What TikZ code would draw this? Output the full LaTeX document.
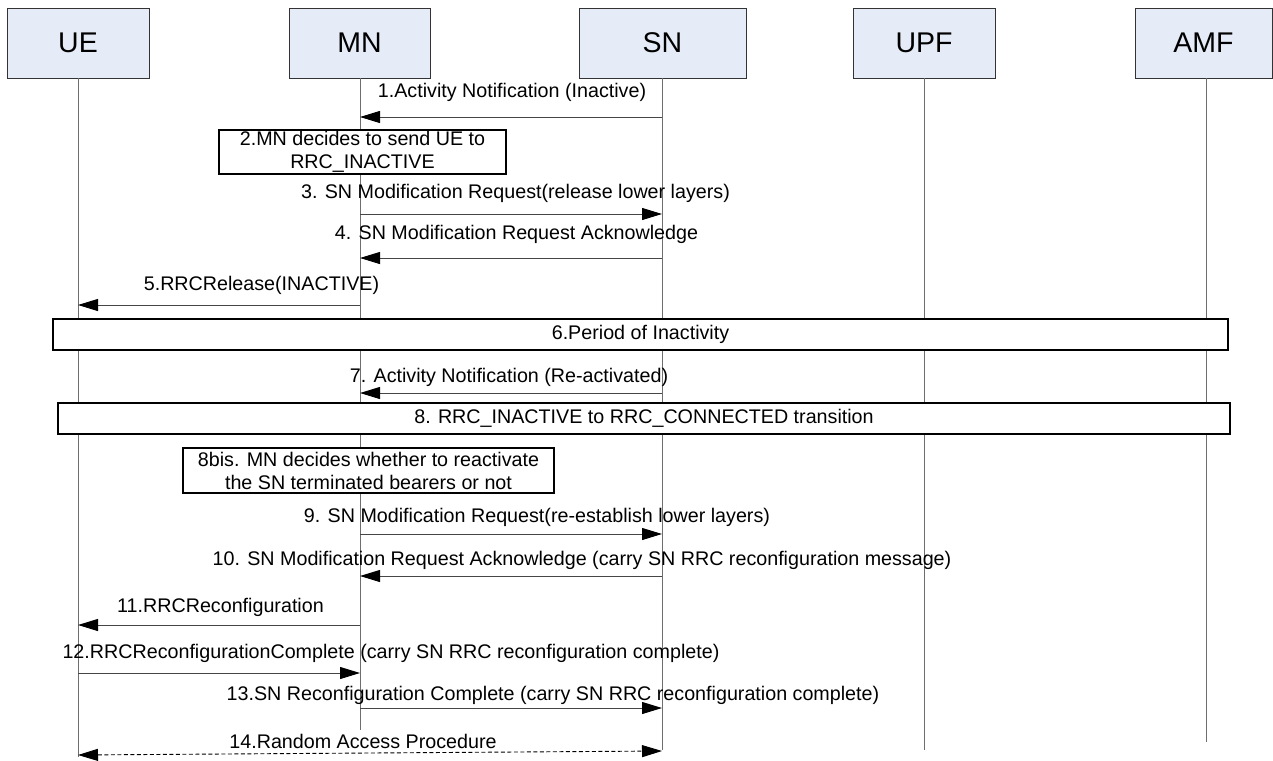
\documentclass[tikz,border=0pt]{standalone}
\usepackage{fontspec}
\setmainfont{Liberation Sans}
\usetikzlibrary{arrows.meta}
\definecolor{hdrfill}{RGB}{230,236,247}
\definecolor{lifegray}{RGB}{110,110,110}
\definecolor{msggray}{RGB}{70,70,70}
\begin{document}
\begin{tikzpicture}[x=1pt,y=-1pt,
  hdr/.style={draw=black!80, line width=0.9pt, fill=hdrfill, minimum height=70pt, inner sep=0pt, font=\fontsize{28.5}{30}\selectfont},
  life/.style={draw=lifegray, line width=0.9pt},
  tip/.tip={Triangle[length=20pt,width=12pt,fill=black,color=black]},
  msg/.style={draw=msggray, line width=1pt, -tip},
  rmsg/.style={draw=black, line width=0.9pt, dash pattern=on 4pt off 2.5pt, tip-tip},
  lbl/.style={anchor=base, inner sep=0pt, font=\fontsize{19.7}{23}\selectfont},
  note/.style={draw=black, line width=1.5pt, fill=white, inner sep=0pt, font=\fontsize{19.7}{23}\selectfont, align=center}]
\useasboundingbox (0,0) rectangle (1273,760);

% headers
\node[hdr, minimum width=142pt] (ue)  at (78,43)    {UE};
\node[hdr, minimum width=141pt] (mn)  at (359.5,43) {MN};
\node[hdr, minimum width=167pt] (sn)  at (662.5,43) {SN};
\node[hdr, minimum width=142pt] (upf) at (924,43)   {UPF};
\node[hdr, minimum width=137pt] (amf) at (1203.5,43){AMF};

% lifeline ends
\coordinate (ueend)  at (78,757);
\coordinate (mnend)  at (360,730);
\coordinate (snend)  at (662,750);
\coordinate (upfend) at (924,750);
\coordinate (amfend) at (1206,742);

\draw[life] (ue.south -| ueend) -- (ueend);
\draw[life] (mn.south -| mnend) -- (mnend);
\draw[life] (sn.south -| snend) -- (snend);
\draw[life] (upf.south -| upfend) -- (upfend);
\draw[life] (amf.south -| amfend) -- (amfend);

% 1
\node[lbl] (l1) at (512,97) {1.Activity Notification (Inactive)};
\draw[msg] (snend |- 0,117) -- (mnend |- 0,117);
% 2
\node[note, minimum width=287pt, minimum height=44pt] (n2) at (362.5,152) {2.MN decides to send UE to\\RRC\_INACTIVE};
% 3
\node[lbl] (l3) at (515.5,198) {3. SN Modification Request(release lower layers)};
\draw[msg] (mnend |- 0,214) -- (snend |- 0,214);
% 4
\node[lbl] (l4) at (516.5,239) {4. SN Modification Request Acknowledge};
\draw[msg] (snend |- 0,258) -- (mnend |- 0,258);
% 5
\node[lbl] (l5) at (261.5,290) {5.RRCRelease(INACTIVE)};
\draw[msg] (mnend |- 0,305) -- (ueend |- 0,305);
% 6
\node[note, line width=1.8pt, minimum width=1175pt, minimum height=31pt] (n6) at (640.5,334.5) {6.Period of Inactivity};
% 7
\node[lbl] (l7) at (509,382) {7. Activity Notification (Re-activated)};
\draw[msg] (snend |- 0,393) -- (mnend |- 0,393);
% 8
\node[note, line width=1.8pt, minimum width=1172pt, minimum height=31pt] (n8) at (644,418.5) {8. RRC\_INACTIVE to RRC\_CONNECTED transition};
% 8bis
\node[note, minimum width=371pt, minimum height=45pt] (n8b) at (368.5,470.5) {8bis. MN decides whether to reactivate\\the SN terminated bearers or not};
% 9
\node[lbl] (l9) at (537,522) {9. SN Modification Request(re-establish lower layers)};
\draw[msg] (mnend |- 0,534) -- (snend |- 0,534);
% 10
\node[lbl] (l10) at (582,565) {10. SN Modification Request Acknowledge (carry SN RRC reconfiguration message)};
\draw[msg] (snend |- 0,576) -- (mnend |- 0,576);
% 11
\node[lbl] (l11) at (220.5,612) {11.RRCReconfiguration};
\draw[msg] (mnend |- 0,625) -- (ueend |- 0,625);
% 12
\node[lbl] (l12) at (391,658) {12.RRCReconfigurationComplete (carry SN RRC reconfiguration complete)};
\draw[msg] (ueend |- 0,673) -- (mnend |- 0,673);
% 13
\node[lbl] (l13) at (553,700) {13.SN Reconfiguration Complete (carry SN RRC reconfiguration complete)};
\draw[msg] (mnend |- 0,708) -- (snend |- 0,708);
% 14
\node[lbl] (l14) at (363,748) {14.Random Access Procedure};
\draw[rmsg] (ueend |- 0,755) -- (snend |- 0,751);
\end{tikzpicture}
\end{document}
